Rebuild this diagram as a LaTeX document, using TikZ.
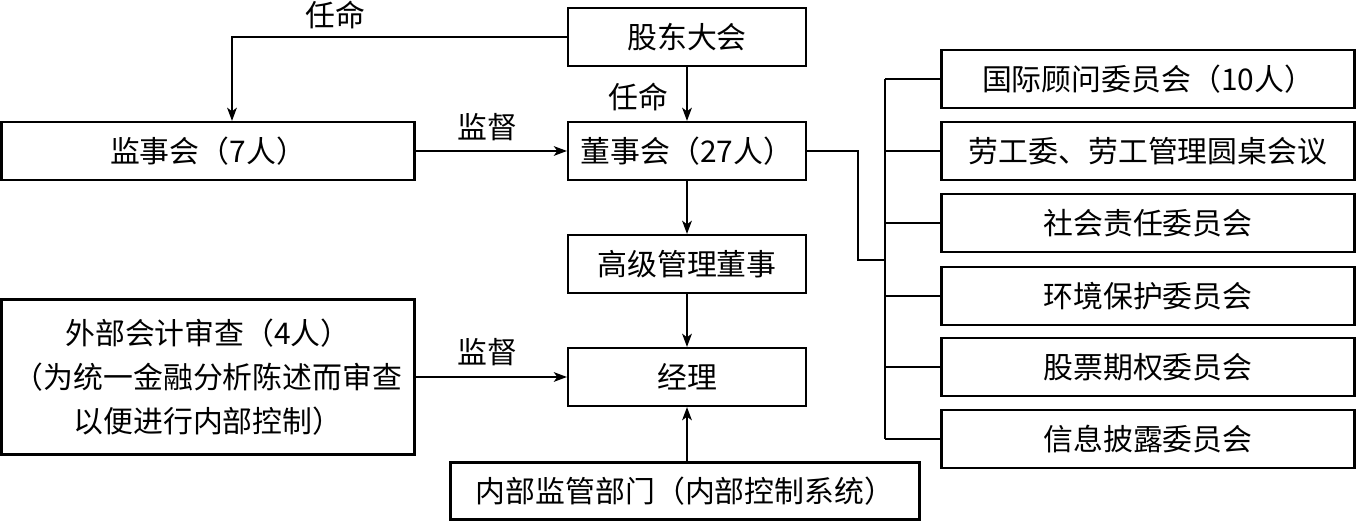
\documentclass[tikz,border=0pt]{standalone}
\usepackage{fontspec}
\newfontfamily\cjk{Noto Sans CJK SC}
\usetikzlibrary{arrows.meta}
\begin{document}
\begin{tikzpicture}[x=0.02cm,y=-0.02cm,
    box/.style={draw,line width=1.2pt,inner sep=0pt,minimum height=1.16cm,font=\cjk\fontsize{17}{25}\selectfont},
    lbl/.style={inner sep=0pt,font=\cjk\fontsize{17}{20}\selectfont},
    arr/.style={line width=1.1pt,-{Stealth[length=7.5pt,width=5.5pt,inset=2pt]}},
    ln/.style={line width=1.1pt}]
        \useasboundingbox (0,0) rectangle (1357,526);
        \begin{scope}[every node/.style={box}]
        \node[minimum width=4.76cm] (gd) at (687,37) {股东大会};
        \node[minimum width=4.76cm] (dsh) at (687,151) {董事会（27人）};
        \node[minimum width=8.26cm] (jsh) at (208,151) {监事会（7人）};
        \node[minimum width=4.76cm] (gg) at (687,264) {高级管理董事};
        \node[minimum width=4.76cm] (jl) at (687,377) {经理};
        \node[minimum width=8.26cm,minimum height=3.1cm,align=center] (wb) at (208,377)
            {外部会计审查（4人）\\（为统一金融分析陈述而审查\\以便进行内部控制）};
        \node[minimum width=9.38cm,minimum height=1.14cm] (nb) at (685,491) {内部监管部门（内部控制系统）};
        \node[minimum width=8.26cm] (c1) at (1148,79) {国际顾问委员会（10人）};
        \node[minimum width=8.26cm] (c2) at (1148,151) {劳工委、劳工管理圆桌会议};
        \node[minimum width=8.26cm] (c3) at (1148,223) {社会责任委员会};
        \node[minimum width=8.26cm] (c4) at (1148,296) {环境保护委员会};
        \node[minimum width=8.26cm] (c5) at (1148,367) {股票期权委员会};
        \node[minimum width=8.26cm] (c6) at (1148,439) {信息披露委员会};
        \end{scope}
        \coordinate (bus) at (885,260);
        \begin{scope}[every node/.style={lbl}]
        \draw[arr] (gd.west) -| ([xshift=0.48cm]jsh.north);
        \node at (335,15) {任命};
        \draw[arr] (gd) -- (dsh);
        \node at (638,97) {任命};
        \draw[arr] (jsh) -- (dsh);
        \node at (487,127) {监督};
        \draw[arr] (dsh) -- (gg);
        \draw[arr] (gg) -- (jl);
        \draw[arr] (wb) -- (jl);
        \node at (487,352) {监督};
        \draw[arr] (nb.north -| jl) -- (jl);
        \end{scope}
        \draw[ln] (dsh.east) -- ++(51,0) |- (bus);
        \draw[ln] (c1.west -| bus) -- (c6.west -| bus);
        \foreach \n in {1,...,6}
            \draw[ln] (c\n.west -| bus) -- (c\n.west);
\end{tikzpicture}
\end{document}
